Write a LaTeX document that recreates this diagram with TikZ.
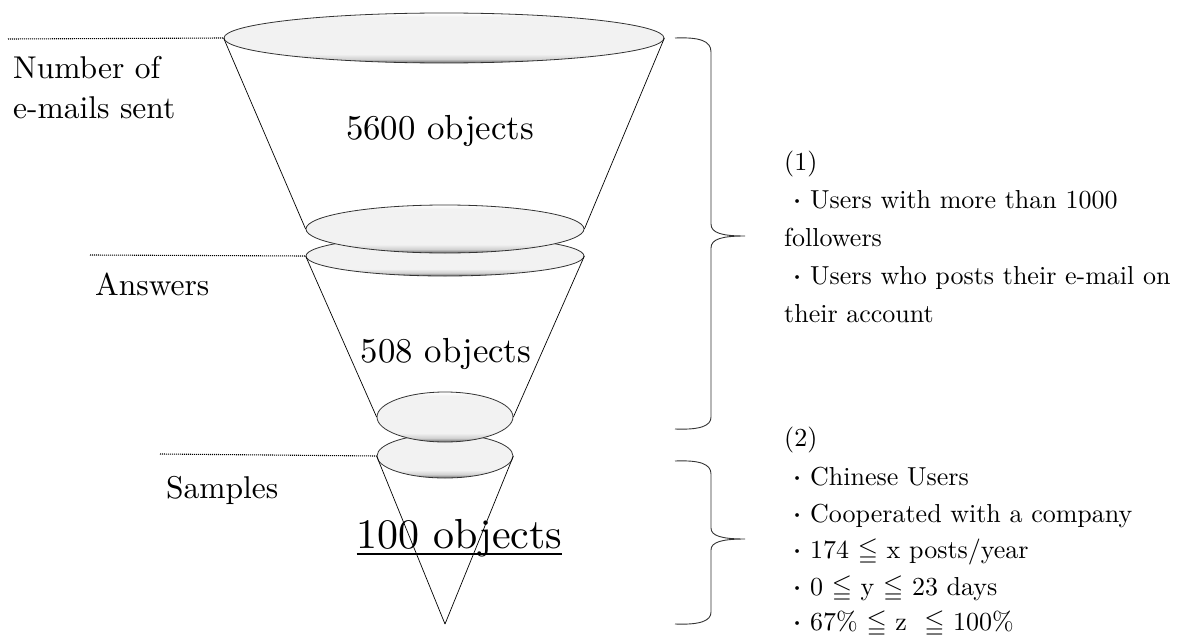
\documentclass[tikz,border=0pt]{standalone}
\usepackage{amssymb}
\usepackage{fontspec}
\setmainfont{lmroman10-regular.otf}[BoldFont=lmroman10-bold.otf]
\usetikzlibrary{shapes.geometric}
\pgfdeclareverticalshading{discshade}{100bp}{color(0bp)=(black!60); color(25bp)=(black!60); color(29bp)=(black!18); color(34bp)=(black!5); color(71bp)=(black!5); color(75bp)=(white); color(100bp)=(white)}
\newcommand{\bul}{\makebox[1em]{\raisebox{0.12em}{\scalebox{0.5}{\textbullet}}}}
\begin{document}
\begin{tikzpicture}[x=1pt,y=-1pt,
  disc/.style={ellipse, draw=black!80, line width=0.8pt, shading=discshade, inner sep=0pt},
  cone/.style={black, line width=0.7pt},
  guide/.style={dash pattern=on 1pt off 1pt, line width=1.1pt, black},
  brace/.style={black!80, line width=0.9pt},
  lbl/.style={anchor=base west, inner sep=0pt, font=\fontsize{31.5}{38}\selectfont},
  num/.style={anchor=base, inner sep=0pt, font=\fontsize{34.8}{40}\selectfont},
  big/.style={anchor=base, inner sep=0pt, font=\fontsize{42}{48}\selectfont},
  crit/.style={anchor=base west, inner sep=0pt, font=\fontsize{26}{36}\selectfont}]
\useasboundingbox (0,0) rectangle (1184,637);

% discs
\node[disc, minimum width=440pt, minimum height=50pt] (e1) at (444,38) {};
\node[disc, minimum width=278pt, minimum height=40pt] (e3) at (445,256) {};
\node[disc, minimum width=278pt, minimum height=48pt] (e2) at (445,229) {};
\node[disc, minimum width=136pt, minimum height=44pt] (e5) at (445,456) {};
\node[disc, minimum width=136pt, minimum height=50pt] (e4) at (445,417) {};
\coordinate (apex) at (445,624);

% cone sides
\draw[cone] (e1.west) -- (e2.west);
\draw[cone] (e1.east) -- (e2.east);
\draw[cone] (e3.west) -- (e4.west);
\draw[cone] (e3.east) -- (e4.east);
\draw[cone] (e5.west) -- (apex);
\draw[cone] (e5.east) -- (apex);

% guide lines
\coordinate (g1) at (8,39);
\coordinate (g2) at (90,255);
\coordinate (g3) at (160,454);
\draw[guide] (g1) -- (e1.west);
\draw[guide] (g2) -- (e3.west);
\draw[guide] (g3) -- (e5.west);

% left labels
\node[lbl] (l1a) at (13,78) {Number of};
\node[lbl] (l1b) at (13,118) {e-mails sent};
\node[lbl] (l2) at (95,295) {Answers};
\node[lbl] (l3) at (166,498) {Samples};

% counts
\node[num] (t5600) at (440,139) {5600 objects};
\node[num] (t508) at (446,362) {508 objects};
\node[big] (t100) at (459.5,548) {100 objects};
\draw[line width=1.8pt] ([yshift=-6pt]t100.base west) -- ([yshift=-6pt]t100.base east);

% braces
\draw[brace] (675,38) .. controls (700,37) and (711,41) .. (711,52) -- (711,224)
  .. controls (711,233) and (722,236) .. (745,236)
  .. controls (722,236) and (711,239) .. (711,248) -- (711,417)
  .. controls (711,426) and (700,430) .. (675,429);
\draw[brace] (675,461) .. controls (700,460) and (711,464) .. (711,474) -- (711,528)
  .. controls (711,536) and (722,539) .. (745,539)
  .. controls (722,539) and (711,542) .. (711,550) -- (711,612)
  .. controls (711,621) and (700,625) .. (675,624);

% criteria (1)
\node[crit] (c1h) at (784,170) {(1)};
\node[crit] (c1a) at (784,208) {\bul Users with more than 1000};
\node[crit] (c1b) at (784,246) {followers};
\node[crit] (c1c) at (784,284) {\bul Users who posts their e-mail on};
\node[crit] (c1d) at (784,322) {their account};

% criteria (2)
\node[crit] (c2h) at (784,446) {(2)};
\node[crit] (c2a) at (784,485) {\bul Chinese Users};
\node[crit] (c2b) at (784,522) {\bul Cooperated with a company};
\node[crit] (c2c) at (784,558) {\bul 174 $\leqq$ x posts/year};
\node[crit] (c2d) at (784,595) {\bul 0 $\leqq$ y $\leqq$ 23 days};
\node[crit] (c2e) at (784,630) {\bul 67\% $\leqq$ z\ \ $\leqq$ 100\%};
\end{tikzpicture}
\end{document}
